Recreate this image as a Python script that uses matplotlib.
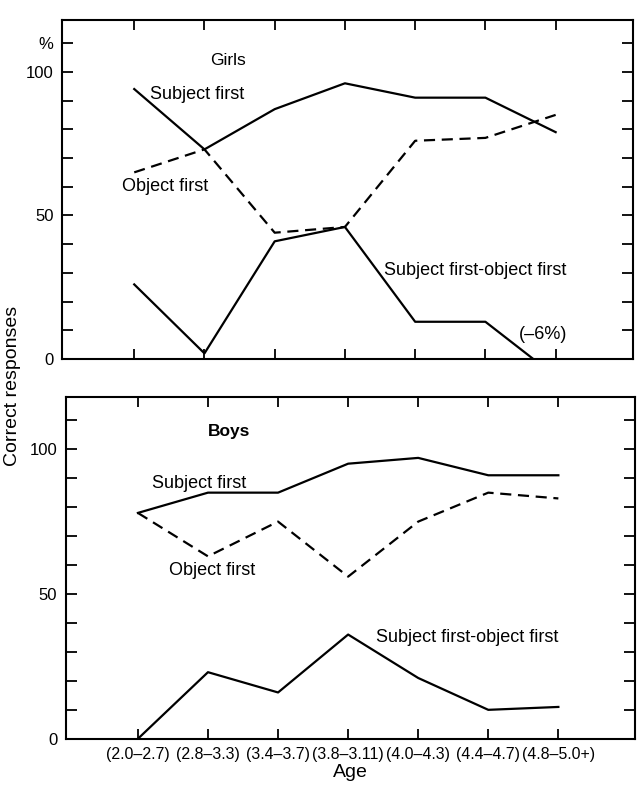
import matplotlib.pyplot as plt
from matplotlib.ticker import FixedLocator

plt.rcParams['font.family'] = ['Liberation Sans', 'DejaVu Sans']

ages = ['(2.0–2.7)', '(2.8–3.3)', '(3.4–3.7)', '(3.8–3.11)',
        '(4.0–4.3)', '(4.4–4.7)', '(4.8–5.0+)']

girls_subject = [94, 73, 87, 96, 91, 91, 79]
girls_object = [65, 73, 44, 46, 76, 77, 85]
girls_diff = [26, 2, 41, 46, 13, 13, -6]

boys_subject = [78, 85, 85, 95, 97, 91, 91]
boys_object = [78, 63, 75, 56, 75, 85, 83]
boys_diff = [0, 23, 16, 36, 21, 10, 11]

x = list(range(len(ages)))


def panel(ax, subject, obj, diff, pct_label):
    ax.plot(x, subject, color='black', lw=1.6)
    ax.plot(x, obj, color='black', lw=1.6, linestyle=(0, (5, 3)))
    ax.plot(x, diff, color='black', lw=1.6)
    ax.set_xlim(-1.03, 7.1)
    ax.set_ylim(0, 118)
    ax.xaxis.set_major_locator(FixedLocator(x))
    labels = ['0', '', '', '', '', '50', '', '', '', '', '100', '%' if pct_label else '']
    ax.set_yticks(range(0, 120, 10))
    ax.set_yticklabels(labels)
    ax.tick_params(axis='y', direction='in', length=8, width=1.3,
                   right=True, labelsize=12, pad=6)
    ax.tick_params(axis='x', direction='in', length=7, width=1.3,
                   top=True, labelsize=11.4, pad=6)
    for s in ax.spines.values():
        s.set_linewidth(1.5)


fig = plt.figure(figsize=(6.38, 7.91), dpi=100)
ax1 = fig.add_axes([0.097, 0.546, 0.895, 0.4286])
ax2 = fig.add_axes([0.103, 0.066, 0.893, 0.432])

panel(ax1, girls_subject, girls_object, girls_diff, True)
ax1.set_xticklabels([])
ax1.text(1.34, 104, 'Girls', ha='center', va='center', fontsize=12.5)
ax1.text(0.23, 92, 'Subject first', ha='left', va='center', fontsize=13)
ax1.text(-0.18, 60, 'Object first', ha='left', va='center', fontsize=13)
ax1.text(3.55, 31, 'Subject first-object first', ha='left', va='center', fontsize=13)
ax1.text(5.48, 8.5, '(–6%)', ha='left', va='center', fontsize=13)

panel(ax2, boys_subject, boys_object, boys_diff, False)
ax2.set_xticklabels(ages)
ax2.text(1.3, 106, 'Boys', ha='center', va='center', fontsize=12.5, fontweight='bold')
ax2.text(0.2, 88, 'Subject first', ha='left', va='center', fontsize=13)
ax2.text(0.44, 58, 'Object first', ha='left', va='center', fontsize=13)
ax2.text(3.4, 35, 'Subject first-object first', ha='left', va='center', fontsize=13)
ax2.set_xlabel('Age', fontsize=14, labelpad=1)

fig.text(0.02, 0.512, 'Correct responses', rotation=90, ha='center', va='center', fontsize=14)

fig.savefig('out.png', dpi=100)
